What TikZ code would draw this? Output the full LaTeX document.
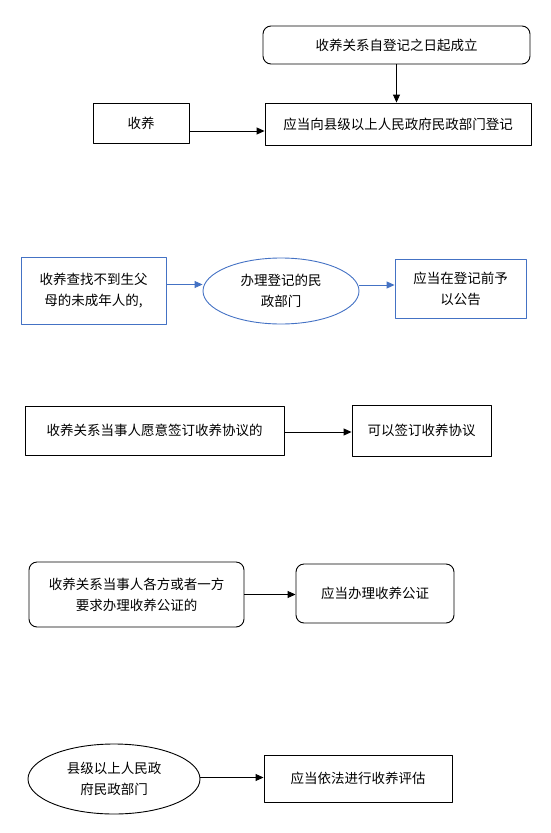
\documentclass[tikz,border=0pt]{standalone}
\usepackage{fontspec}
\setmainfont{Noto Sans CJK SC}
\usepackage{xcolor}
\usepackage{tikz}
\usetikzlibrary{arrows.meta,shapes.geometric}
\definecolor{lineblue}{HTML}{4472C4}

\begin{document}
\begin{tikzpicture}[x=1pt,y=-1pt,>={Triangle[length=8pt,width=7pt]},line join=round,
  every node/.style={font=\fontsize{13.5}{21}\selectfont,align=center,inner sep=0pt},
  sqbox/.style={draw,line width=0.9pt},
  rdbox/.style={draw,line width=0.9pt,rounded corners=8pt},
  bluebox/.style={draw=lineblue,line width=0.9pt},
  oval/.style={ellipse,draw,line width=0.9pt},
  link/.style={->,line width=0.9pt},
  bluelink/.style={->,line width=0.9pt,draw=lineblue,fill=lineblue}]
  \useasboundingbox (0,0) rectangle (551,833);
  % registration
  \node[rdbox,minimum width=267pt,minimum height=38pt] (Est) at (396.5,45) {收养关系自登记之日起成立};
  \node[sqbox,minimum width=266pt,minimum height=42pt] (Reg) at (398,124) {应当向县级以上人民政府民政部门登记};
  \node[sqbox,minimum width=96pt,minimum height=40pt] (Adopt) at (141,123) {收养};
  \draw[link] (Est) -- (Est |- Reg.north);
  \draw[link] ([yshift=-8pt]Adopt.east) -- ([yshift=-8pt]Adopt.east -| Reg.west);
  % announcement
  \node[bluebox,minimum width=145pt,minimum height=67pt] (Orph) at (93.5,290.5) {收养查找不到生父\\母的未成年人的,};
  \node[oval,draw=lineblue,minimum width=156pt,minimum height=66pt] (Civil) at (281,291) {办理登记的民\\政部门};
  \node[bluebox,minimum width=131pt,minimum height=59pt] (Notice) at (460.5,288.5) {应当在登记前予\\以公告};
  \draw[bluelink] ([yshift=6pt]Orph.east) -- ([yshift=6pt]Orph.east -| Civil.west);
  \draw[bluelink] ([yshift=6pt]Civil.east) -- ([yshift=6pt]Civil.east -| Notice.west);
  % agreement
  \node[sqbox,minimum width=259pt,minimum height=49pt] (Wish) at (154.5,430.5) {收养关系当事人愿意签订收养协议的};
  \node[sqbox,minimum width=139pt,minimum height=51pt] (Agree) at (421.5,430.5) {可以签订收养协议};
  \draw[link] ([yshift=-1.5pt]Wish.east) -- ([yshift=-1.5pt]Wish.east -| Agree.west);
  % notarization
  \node[rdbox,minimum width=215pt,minimum height=65pt] (Ask) at (136.5,594.5) {收养关系当事人各方或者一方\\要求办理收养公证的};
  \node[rdbox,minimum width=158pt,minimum height=59pt] (Notary) at (375,593.5) {应当办理收养公证};
  \draw[link] (Ask.east) -- (Ask.east -| Notary.west);
  % assessment
  \node[oval,minimum width=172pt,minimum height=70pt] (County) at (114,779) {县级以上人民政\\府民政部门};
  \node[sqbox,minimum width=188pt,minimum height=47pt] (Assess) at (358,778.5) {应当依法进行收养评估};
  \draw[link] ([yshift=1.5pt]County.east) -- ([yshift=1.5pt]County.east -| Assess.west);
\end{tikzpicture}
\end{document}
